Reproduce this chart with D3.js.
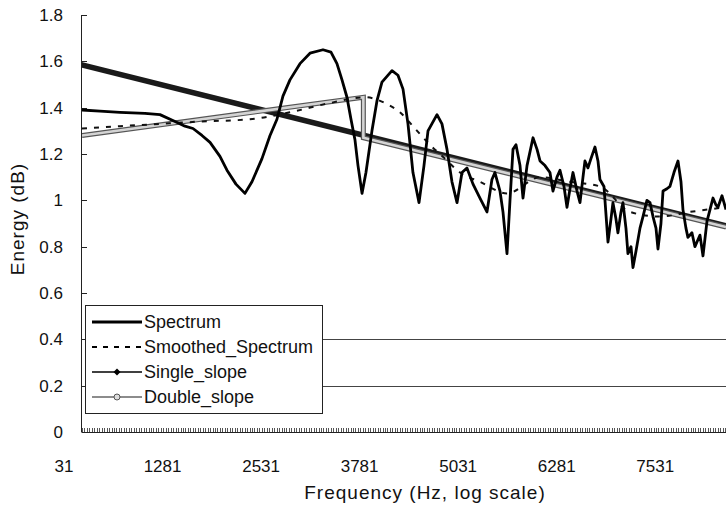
<!DOCTYPE html>
<html lang="en">
<head>
<meta charset="UTF-8"/>
<title>Spectrum energy</title>
<script src="https://d3js.org/d3.v7.min.js"></script>
<style>
  body { margin: 0; background: #fff; }
  text { font-family: "Liberation Sans", Arial, sans-serif; fill: #111; }
</style>
</head>
<body>
<script>
// spectrum (Hz, dB)
var specFreq = [31,259,513,830,1020,1211,1337,1439,1553,1655,1781,1870,1984,2098,2187,2314,2416,2504,2580,2669,
  2796,2923,3088,3189,3265,3329,3392,3443,3494,3532,3583,3633,3709,3773,3836,3963,4039,4103,4166,4229,
  4306,4369,4420,4534,4597,4661,4724,4788,4851,4914,4991,5079,5168,5231,5269,5333,5371,5422,5460,5498,
  5536,5587,5625,5676,5752,5803,5841,5904,5967,6005,6056,6094,6145,6183,6221,6259,6310,6348,6386,6411,
  6449,6487,6538,6576,6601,6652,6703,6741,6766,6804,6829,6868,6893,6931,6956,6995,7020,7058,7109,7147,
  7197,7236,7274,7312,7337,7375,7401,7451,7489,7540,7591,7629,7654,7692,7717,7768,7806,7832,7870,7908,
  7959,7997,8035,8073,8098,8149,8200];
var specVal = [1.39,1.385,1.38,1.375,1.37,1.34,1.32,1.31,1.28,1.25,1.19,1.13,1.07,1.03,1.08,1.18,1.28,1.35,1.45,1.52,
  1.59,1.635,1.65,1.64,1.59,1.52,1.445,1.35,1.26,1.15,1.03,1.12,1.30,1.43,1.51,1.56,1.54,1.48,1.33,1.12,
  0.99,1.15,1.30,1.37,1.33,1.22,1.08,0.99,1.12,1.14,1.07,1.01,0.95,1.09,1.12,1.04,0.95,0.77,1.0,1.22,
  1.24,1.15,1.01,1.15,1.27,1.22,1.17,1.15,1.12,1.04,1.10,1.13,1.06,0.97,1.05,1.12,1.04,0.99,1.10,1.17,
  1.14,1.18,1.23,1.17,1.09,1.06,0.82,0.92,0.99,0.92,0.86,0.95,0.99,0.88,0.77,0.80,0.71,0.78,0.88,0.93,
  1.0,0.99,0.93,0.88,0.79,0.90,1.04,1.05,1.06,1.12,1.17,1.08,0.96,0.88,0.84,0.86,0.80,0.82,0.85,0.76,
  0.91,0.96,1.01,0.98,0.97,1.02,0.96];

// smoothed spectrum
var smoothFreq = [31,513,1020,1528,2162,2669,3177,3621,3874,4064,4255,4445,4635,4826,5079,5422,5841,6221,6601,6982,7363,7743,8200];
var smoothVal = [1.31,1.32,1.33,1.34,1.35,1.38,1.42,1.445,1.42,1.38,1.31,1.24,1.18,1.12,1.08,1.03,1.10,1.08,1.06,0.95,0.93,0.95,0.97];

// single and double slope fits
var singleFreq = [31,8200];
var singleVal = [1.585,0.89];
var doubleFreq = [31,3600,3600,8200];
var doubleVal = [1.28,1.445,1.27,0.885];

var yTicks = [0,0.2,0.4,0.6,0.8,1,1.2,1.4,1.6,1.8];
var xTickLabels = [31,1281,2531,3781,5031,6281,7531];
var refLevels = [0.4,0.2];
var legendNames = ["Spectrum","Smoothed_Spectrum","Single_slope","Double_slope"];

var w = 726, h = 506;
var x = d3.scaleLinear().domain([31,8200]).range([82,726]);
var y = d3.scaleLinear().domain([0,1.8]).range([432,15]);

var svg = d3.select("body").append("svg").attr("width",w).attr("height",h);

svg.append("clipPath").attr("id","plot")
  .append("rect").attr("x",82).attr("y",0).attr("width",w-82).attr("height",432);

function pts(f,v){ return f.map(function(d,i){ return [d,v[i]]; }); }
var line = d3.line().x(function(d){ return x(d[0]); }).y(function(d){ return y(d[1]); });

// reference levels
svg.selectAll(".ref").data(refLevels).enter().append("line")
  .attr("x1",82).attr("x2",w)
  .attr("y1",function(d){ return Math.round(y(d))+0.5; })
  .attr("y2",function(d){ return Math.round(y(d))+0.5; })
  .attr("stroke","#444").attr("stroke-width",1);

// y axis
svg.append("line").attr("x1",81.5).attr("x2",81.5).attr("y1",y(1.8)).attr("y2",y(0))
  .attr("stroke","#222");
svg.selectAll(".ytick").data(yTicks).enter().append("line")
  .attr("x1",81.5).attr("x2",87)
  .attr("y1",function(d){ return Math.round(y(d))+0.5; })
  .attr("y2",function(d){ return Math.round(y(d))+0.5; })
  .attr("stroke","#222");
svg.selectAll(".ylab").data(yTicks).enter().append("text")
  .attr("x",63).attr("y",function(d){ return y(d); }).attr("dy","0.36em")
  .attr("text-anchor","end").attr("font-size","17px")
  .text(function(d){ return d; });

// x axis with dense category ticks
svg.append("line").attr("x1",82).attr("x2",w).attr("y1",432.5).attr("y2",432.5).attr("stroke","#222");
svg.selectAll(".xtick").data(d3.range(31,8200,31.25)).enter().append("line")
  .attr("x1",function(d){ return Math.round(x(d))+0.5; })
  .attr("x2",function(d){ return Math.round(x(d))+0.5; })
  .attr("y1",428).attr("y2",432)
  .attr("stroke","#555");
svg.selectAll(".xlab").data(xTickLabels).enter().append("text")
  .attr("x",function(d){ return x(d)-18; }).attr("y",472)
  .attr("text-anchor","middle").attr("font-size","17px")
  .text(function(d){ return d; });

svg.append("text").attr("x",425).attr("y",499).attr("text-anchor","middle")
  .attr("font-size","19px").attr("letter-spacing","1px")
  .text("Frequency (Hz, log scale)");
svg.append("text").attr("transform","translate(24,219) rotate(-90)")
  .attr("text-anchor","middle").attr("font-size","19px").attr("letter-spacing","1px")
  .text("Energy (dB)");

var g = svg.append("g").attr("clip-path","url(#plot)");

g.append("path").datum(pts(singleFreq,singleVal)).attr("d",line)
  .attr("fill","none").attr("stroke","#1a1a1a").attr("stroke-width",5.5).attr("stroke-linecap","round");
g.append("path").datum(pts(doubleFreq,doubleVal)).attr("d",line)
  .attr("fill","none").attr("stroke","#555").attr("stroke-width",5);
g.append("path").datum(pts(doubleFreq,doubleVal)).attr("d",line)
  .attr("fill","none").attr("stroke","#d4d4d4").attr("stroke-width",2.6);
g.append("path").datum(pts(smoothFreq,smoothVal)).attr("d",line.curve(d3.curveMonotoneX))
  .attr("fill","none").attr("stroke","#111").attr("stroke-width",2).attr("stroke-dasharray","5,7");
line.curve(d3.curveLinear);
g.append("path").datum(pts(specFreq,specVal)).attr("d",line)
  .attr("fill","none").attr("stroke","#000").attr("stroke-width",2.8).attr("stroke-linejoin","round");

// legend
var lg = svg.append("g");
lg.append("rect").attr("x",85.5).attr("y",305.5).attr("width",237).attr("height",108)
  .attr("fill","#fff").attr("stroke","#222");
var rows = lg.selectAll(".row").data(legendNames).enter().append("g")
  .attr("transform",function(d,i){ return "translate(0,"+(322+i*25)+")"; });
rows.append("line").attr("x1",92).attr("x2",142).attr("y1",0).attr("y2",0)
  .attr("stroke",function(d,i){ return i==3 ? "#666" : "#000"; })
  .attr("stroke-width",function(d,i){ return i==0 ? 3 : (i==1 ? 2 : 1.5); })
  .attr("stroke-dasharray",function(d,i){ return i==1 ? "5,6" : null; });
rows.filter(function(d,i){ return i==2; }).append("path")
  .attr("d","M117,-3.5L120.5,0L117,3.5L113.5,0Z").attr("fill","#000");
rows.filter(function(d,i){ return i==3; }).append("circle")
  .attr("cx",117).attr("cy",0).attr("r",3).attr("fill","#ddd").attr("stroke","#555");
rows.append("text").attr("x",144).attr("y",0).attr("dy","0.36em").attr("font-size","18px")
  .text(function(d){ return d; });
</script>
</body>
</html>
